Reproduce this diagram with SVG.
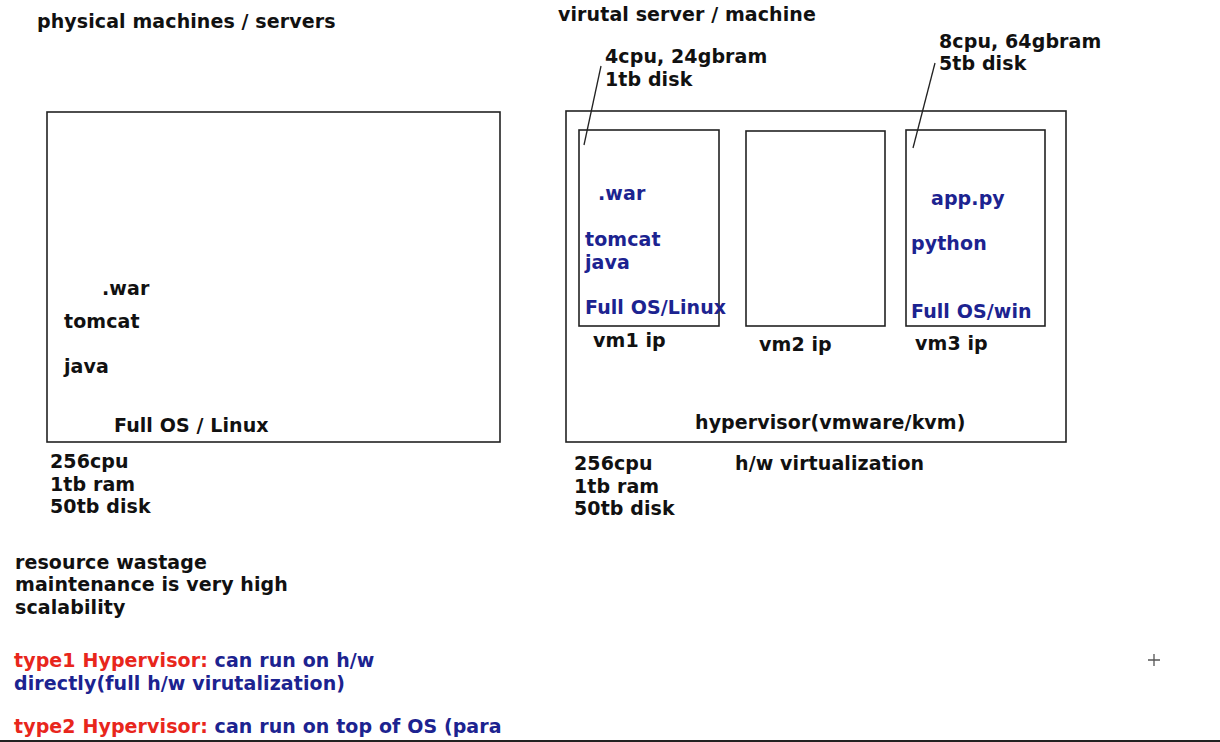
<svg xmlns="http://www.w3.org/2000/svg" width="1220" height="742" viewBox="0 0 1220 742">
<style>
text{font-family:"DejaVu Sans","Verdana",sans-serif;font-weight:bold;font-size:19px;letter-spacing:0.1px;fill:#111}
.b{fill:#1c2390}
.r{fill:#e8261c}
.box{fill:none;stroke:#222;stroke-width:1.6}
.ln{stroke:#222;stroke-width:1.3;fill:none}
</style>
<rect width="1220" height="742" fill="#fff"/>
<text x="37" y="28">physical machines / servers</text>
<text x="558" y="21">virutal server / machine</text>
<g id="physical">
<rect class="box" x="47" y="112" width="453" height="330"/>
<text x="102" y="295">.war</text>
<text x="64" y="328">tomcat</text>
<text x="64" y="373">java</text>
<text x="114" y="432">Full OS / Linux</text>
</g>
<text x="50" y="468">256cpu</text>
<text x="50" y="491">1tb ram</text>
<text x="50" y="513">50tb disk</text>
<g id="host">
<rect class="box" x="566" y="111" width="500" height="331"/>
<text x="695" y="429" letter-spacing="0.4">hypervisor(vmware/kvm)</text>
</g>
<g id="vm1">
<rect class="box" x="579" y="130" width="140" height="196"/>
<text class="b" x="598" y="200">.war</text>
<text class="b" x="585" y="246">tomcat</text>
<text class="b" x="585" y="269">java</text>
<text class="b" x="585" y="314" letter-spacing="0.3">Full OS/Linux</text>
<text x="593" y="347">vm1 ip</text>
</g>
<g id="vm2">
<rect class="box" x="746" y="131" width="139" height="195"/>
<text x="759" y="351">vm2 ip</text>
</g>
<g id="vm3">
<rect class="box" x="906" y="130" width="139" height="196"/>
<text class="b" x="931" y="205">app.py</text>
<text class="b" x="911" y="250">python</text>
<text class="b" x="911" y="318">Full OS/win</text>
<text x="915" y="350">vm3 ip</text>
</g>
<text x="605" y="63">4cpu, 24gbram</text>
<text x="605" y="86">1tb disk</text>
<text x="939" y="48">8cpu, 64gbram</text>
<text x="939" y="70">5tb disk</text>
<g id="connectors">
<line class="ln" x1="601" y1="66" x2="584" y2="145"/>
<line class="ln" x1="935" y1="63" x2="913" y2="148"/>
</g>
<text x="574" y="470">256cpu</text>
<text x="574" y="493">1tb ram</text>
<text x="574" y="515">50tb disk</text>
<text x="735" y="470">h/w virtualization</text>
<text x="15" y="569">resource wastage</text>
<text x="15" y="591">maintenance is very high</text>
<text x="15" y="614">scalability</text>
<text x="14" y="667"><tspan class="r">type1 Hypervisor:</tspan><tspan class="b"> can run on h/w</tspan></text>
<text class="b" x="14" y="690">directly(full h/w virutalization)</text>
<text x="14" y="733"><tspan class="r">type2 Hypervisor:</tspan><tspan class="b"> can run on top of OS (para</tspan></text>
<path d="M1148 660h12M1154 654v12" stroke="#555" stroke-width="1.3"/>
<rect x="0" y="740" width="1220" height="2" fill="#222"/>
</svg>
